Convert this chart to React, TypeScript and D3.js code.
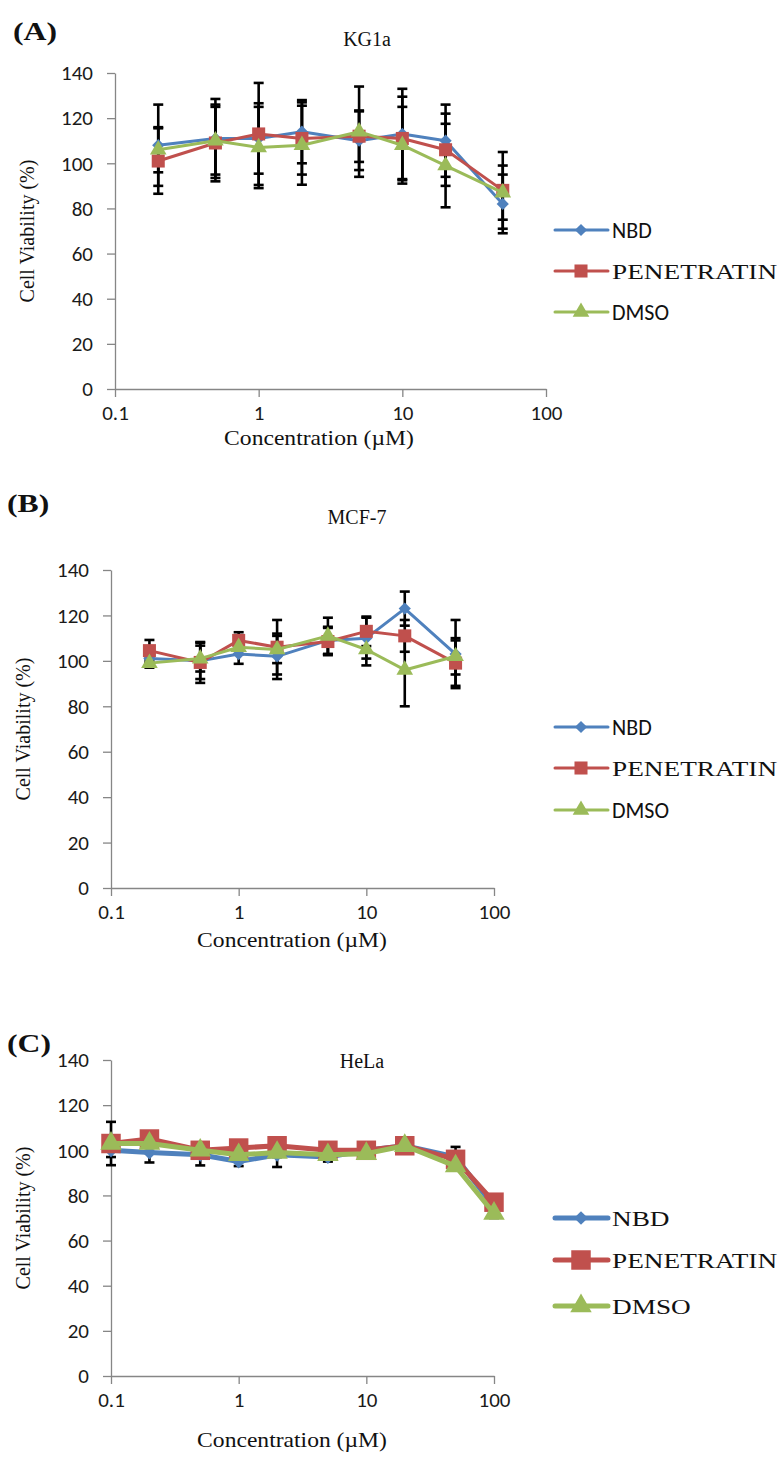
import React, { useEffect, useRef } from 'react';
import * as d3 from 'd3';

// ---- data ----
const seriesNames = ['NBD', 'PENETRATIN', 'DMSO'];
const seriesColors = ['#4F81BD', '#C0504D', '#9BBB59'];
const yTicks = [0, 20, 40, 60, 80, 100, 120, 140];
const xTicks = [0.1, 1, 10, 100];
const xTickLabels = ['0.1', '1', '10', '100'];

const concAB = [0.2, 0.5, 1, 2, 5, 10, 20, 50];
const concC = [0.1, 0.2, 0.5, 1, 2, 5, 10, 20, 50, 100];

// KG1a
const kg1aNbd = [108, 111, 111, 114, 110, 113, 110, 82];
const kg1aNbdErr = [18, 17.5, 15.6, 14, 13, 20, 16, 13];
const kg1aPen = [101, 109, 113, 111, 112, 111, 106, 88];
const kg1aPenErr = [14.5, 17, 22.6, 16, 11.4, 18.5, 16, 17];
const kg1aDmso = [106, 110, 107, 108, 114, 108, 99, 87];
const kg1aDmsoErr = [10, 15, 18, 17.5, 20, 17, 18.5, 12];

// MCF-7
const mcfNbd = [101, 100, 103, 102, 109, 110, 123, 103];
const mcfNbdErr = [2, 8, 4.3, 10, 6, 9, 7.5, 15];
const mcfPen = [104.5, 99.3, 109, 106, 108.5, 113, 111, 99];
const mcfPenErr = [4.7, 9, 3.6, 12, 6, 6.5, 7, 10];
const mcfDmso = [99, 101, 106, 105, 111, 105, 96, 102];
const mcfDmsoErr = [2, 5.7, 3, 6, 8, 7, 16, 8];

// HeLa
const helaNbd = [100, 99, 98, 95, 98, 97, 100, 102, 97, 75];
const helaNbdErr = [3, 4.4, 4.7, 2, 5.4, 2, 1, 1, 4.5, 2];
const helaPen = [103, 105, 100, 101, 102, 100, 100, 102, 96, 77];
const helaPenErr = [9.6, 2, 2, 2, 2, 1, 1, 1, 2, 2];
const helaDmso = [103, 103, 100, 98, 99, 98, 98.5, 102, 93, 72];
const helaDmsoErr = [2, 2, 2, 2, 2, 1, 1, 1, 2, 2];

// ---- layout ----
const SANS = 'Carlito, Lato, "Open Sans", sans-serif';
const SERIF = '"Liberation Serif", "Times New Roman", serif';

const panels = [
  {
    tag: '(A)', title: 'KG1a', conc: concAB,
    values: [kg1aNbd, kg1aPen, kg1aDmso], errors: [kg1aNbdErr, kg1aPenErr, kg1aDmsoErr],
    left: 115, right: 546, top: 73, bottom: 389,
    tagPos: [13, 40], titlePos: [367, 46], xTitlePos: [319, 445], yTitleX: 34,
    legendY: [230, 271, 312], legendFonts: [SANS, SERIF, SANS], big: false,
  },
  {
    tag: '(B)', title: 'MCF-7', conc: concAB,
    values: [mcfNbd, mcfPen, mcfDmso], errors: [mcfNbdErr, mcfPenErr, mcfDmsoErr],
    left: 111, right: 494, top: 570, bottom: 888,
    tagPos: [7, 512], titlePos: [357, 524], xTitlePos: [292, 947], yTitleX: 30,
    legendY: [727, 768, 810], legendFonts: [SANS, SERIF, SANS], big: false,
  },
  {
    tag: '(C)', title: 'HeLa', conc: concC,
    values: [helaNbd, helaPen, helaDmso], errors: [helaNbdErr, helaPenErr, helaDmsoErr],
    left: 111, right: 494, top: 1060, bottom: 1376,
    tagPos: [7, 1052], titlePos: [362, 1068], xTitlePos: [292, 1447], yTitleX: 30,
    legendY: [1218, 1260, 1306], legendFonts: [SERIF, SERIF, SERIF], big: true,
  },
];

const symbolTypes = [d3.symbolDiamond2, d3.symbolSquare, d3.symbolTriangle];

// the source figure is slightly widened, so serif text gets a horizontal stretch
function label(g: any, x: number, y: number, txt: string, font: string, size: number, sx: number, anchor = 'start', weight = 'normal') {
  return g.append('text')
    .attr('transform', `translate(${x},${y}) scale(${sx},1)`)
    .attr('text-anchor', anchor)
    .style('font-family', font).style('font-size', `${size}px`).style('font-weight', weight)
    .attr('fill', '#111')
    .text(txt);
}

function drawPanel(svg: any, p: any) {
  const x = d3.scaleLog().domain([0.1, 100]).range([p.left, p.right]);
  const y = d3.scaleLinear().domain([0, 140]).range([p.bottom, p.top]);
  const g = svg.append('g');

  const markerSizes = p.big ? [120, 380, 200] : [95, 170, 120];
  const lineW = p.big ? 5 : 3;

  // axes
  const ay = g.append('g')
    .attr('transform', `translate(${p.left},0)`)
    .call(d3.axisLeft(y).tickValues(yTicks).tickSize(8).tickSizeOuter(0).tickPadding(14));
  const ax = g.append('g')
    .attr('transform', `translate(0,${p.bottom})`)
    .call(d3.axisBottom(x).tickValues(xTicks).tickSize(8).tickSizeOuter(0).tickPadding(8)
      .tickFormat((d: any, i: number) => xTickLabels[i]));
  [ay, ax].forEach(a => {
    a.select('.domain').attr('stroke', '#868686').attr('stroke-width', 1.3);
    a.selectAll('.tick line').attr('stroke', '#868686').attr('stroke-width', 1.3);
    a.selectAll('.tick text').attr('fill', '#1a1a1a')
      .style('font-family', SANS).style('font-size', '21px');
  });

  // error bars
  p.values.forEach((vals: number[], s: number) => {
    vals.forEach((v, i) => {
      const e = p.errors[s][i];
      const cx = x(p.conc[i]);
      const eb = g.append('g').attr('stroke', '#000').attr('stroke-width', 2.6);
      eb.append('line').attr('x1', cx).attr('x2', cx).attr('y1', y(v - e)).attr('y2', y(v + e));
      [v - e, v + e].forEach(t => {
        eb.append('line').attr('x1', cx - 5).attr('x2', cx + 5).attr('y1', y(t)).attr('y2', y(t));
      });
    });
  });

  // lines + markers
  p.values.forEach((vals: number[], s: number) => {
    const line = d3.line<number>()
      .x((d, i) => x(p.conc[i]))
      .y(d => y(d));
    g.append('path')
      .datum(vals)
      .attr('fill', 'none')
      .attr('stroke', seriesColors[s])
      .attr('stroke-width', lineW)
      .attr('stroke-linejoin', 'round')
      .attr('d', line);
    g.selectAll(null)
      .data(vals)
      .enter()
      .append('path')
      .attr('d', d3.symbol().type(symbolTypes[s]).size(markerSizes[s]))
      .attr('transform', (d: number, i: number) => `translate(${x(p.conc[i])},${y(d)})`)
      .attr('fill', seriesColors[s]);
  });

  // legend
  const lx = 555;
  seriesNames.forEach((name, s) => {
    const ly = p.legendY[s];
    g.append('line').attr('x1', lx).attr('x2', lx + 53).attr('y1', ly).attr('y2', ly)
      .attr('stroke', seriesColors[s]).attr('stroke-width', lineW).attr('stroke-linecap', 'round');
    g.append('path')
      .attr('d', d3.symbol().type(symbolTypes[s]).size(markerSizes[s]))
      .attr('transform', `translate(${lx + 26},${ly})`)
      .attr('fill', seriesColors[s]);
    const serif = p.legendFonts[s] === SERIF;
    label(g, lx + 57, ly + 8, name, p.legendFonts[s], 22, serif ? 1.24 : 1);
  });

  // titles
  label(g, p.tagPos[0], p.tagPos[1], p.tag, SERIF, 26, 1.22, 'start', 'bold');
  label(g, p.titlePos[0], p.titlePos[1], p.title, SERIF, 20, 1, 'middle');
  label(g, p.xTitlePos[0], p.xTitlePos[1], 'Concentration (\u00B5M)', SERIF, 20, 1.18, 'middle');
  g.append('text')
    .attr('transform', `translate(${p.yTitleX},${(p.top + p.bottom) / 2}) rotate(-90)`)
    .attr('text-anchor', 'middle')
    .style('font-family', SERIF).style('font-size', '20px')
    .attr('fill', '#111')
    .text('Cell Viability (%)');
}

export default function App() {
  const ref = useRef<SVGSVGElement>(null);

  useEffect(() => {
    const svg = d3.select(ref.current);
    svg.selectAll('*').remove();
    svg.append('rect').attr('width', 782).attr('height', 1468).attr('fill', '#fff');
    panels.forEach(p => drawPanel(svg, p));
  }, []);

  return (
    <div style={{ position: 'absolute', left: 0, top: 0 }}>
      <svg ref={ref} width={782} height={1468} style={{ display: 'block' }} />
    </div>
  );
}
